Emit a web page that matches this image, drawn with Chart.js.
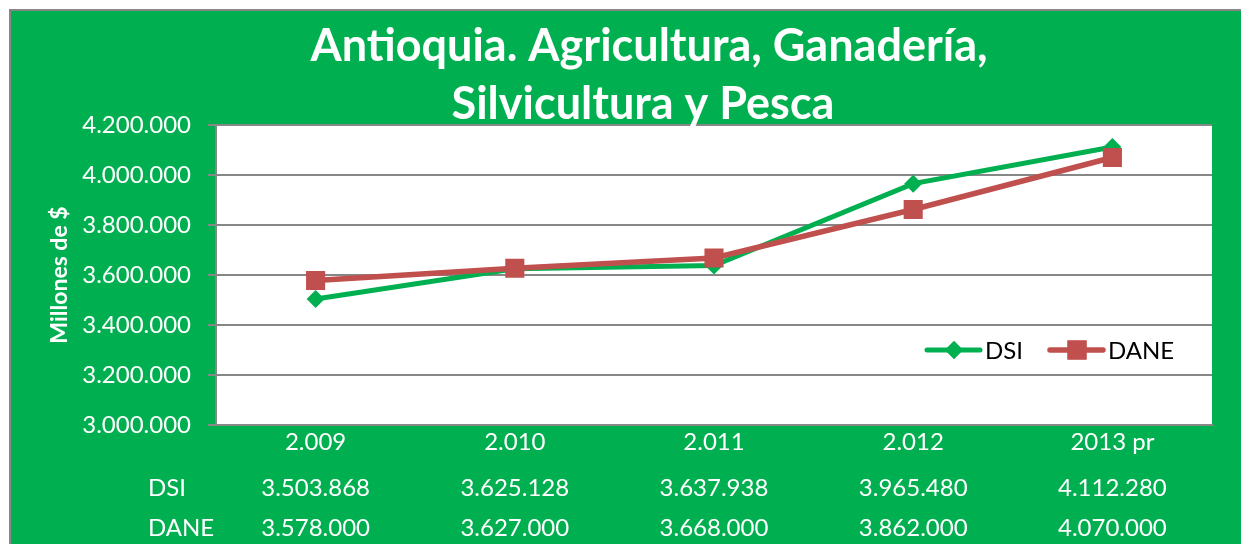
<!DOCTYPE html>
<html>
<head>
<meta charset="utf-8">
<script src="https://cdn.jsdelivr.net/npm/chart.js@4/dist/chart.umd.min.js"></script>
<style>
  body { margin: 0; background: #fff; }
  canvas { display: block; }
</style>
</head>
<body>
<canvas id="myChart" width="1241" height="544"></canvas>
<script>
// datos
var years = ["2.009", "2.010", "2.011", "2.012", "2013 pr"];
var dsi = [3503868, 3625128, 3637938, 3965480, 4112280];
var dane = [3578000, 3627000, 3668000, 3862000, 4070000];
var yTicks = [3000000, 3200000, 3400000, 3600000, 3800000, 4000000, 4200000];

var GREEN = "#00B050";
var RED = "#C0504D";
var GRID = "#878787";
var FONT = "Lato, 'Open Sans', sans-serif";

function miles(n) {
  return String(n).replace(/\B(?=(\d{3})+(?!\d))/g, ".");
}

var decoPlugin = {
  id: "deco",
  beforeDraw: function(chart) {
    var ctx = chart.ctx, a = chart.chartArea;
    ctx.save();
    ctx.fillStyle = "#fff";
    ctx.fillRect(0, 0, chart.width, chart.height);
    ctx.fillStyle = GREEN;
    ctx.fillRect(10, 10, chart.width - 10, chart.height - 10);
    ctx.strokeStyle = GRID;
    ctx.lineWidth = 2;
    ctx.beginPath();
    ctx.moveTo(10, chart.height);
    ctx.lineTo(10, 10);
    ctx.lineTo(chart.width, 10);
    ctx.stroke();
    ctx.fillStyle = "#fff";
    ctx.fillRect(a.left, a.top, a.right - a.left, a.bottom - a.top);
    ctx.restore();
  },
  afterDraw: function(chart) {
    var ctx = chart.ctx, xs = chart.scales.x;
    ctx.save();
    // titulo
    ctx.fillStyle = "#fff";
    ctx.textAlign = "center";
    ctx.textBaseline = "middle";
    ctx.font = "bold 45px " + FONT;
    ctx.fillText("Antioquia. Agricultura, Ganadería,", 649, 46);
    ctx.fillText("Silvicultura y Pesca", 643, 104);

    // tabla de datos
    ctx.font = "24px " + FONT;
    ctx.textAlign = "left";
    ctx.fillText("DSI", 148, 488);
    ctx.fillText("DANE", 148, 528);
    ctx.textAlign = "center";
    for (var i = 0; i < years.length; i++) {
      var x = xs.getPixelForValue(i);
      ctx.fillText(miles(dsi[i]), x, 488);
      ctx.fillText(miles(dane[i]), x, 528);
    }

    // leyenda
    var items = [
      { ds: chart.data.datasets[0], x: 925 },
      { ds: chart.data.datasets[1], x: 1048 }
    ];
    var ly = 350;
    items.forEach(function(it) {
      var d = it.ds;
      ctx.strokeStyle = d.borderColor;
      ctx.lineWidth = d.borderWidth;
      ctx.lineCap = "round";
      ctx.beginPath();
      ctx.moveTo(it.x + 2, ly);
      ctx.lineTo(it.x + 55, ly);
      ctx.stroke();
      ctx.fillStyle = d.pointBackgroundColor;
      Chart.helpers.drawPoint(ctx, {
        pointStyle: d.pointStyle, radius: d.pointRadius, borderWidth: 0
      }, it.x + 29, ly);
      ctx.fill();
      ctx.fillStyle = "#000";
      ctx.textAlign = "left";
      ctx.font = "24px " + FONT;
      ctx.fillText(d.label, it.x + 60, ly + 1);
    });
    ctx.restore();
  }
};

var ctx = document.getElementById("myChart").getContext("2d");
var myChart = new Chart(ctx, {
  type: "line",
  data: {
    labels: years,
    datasets: [
      {
        label: "DSI",
        data: dsi,
        borderColor: GREEN,
        backgroundColor: GREEN,
        pointBackgroundColor: GREEN,
        pointBorderColor: GREEN,
        borderWidth: 5,
        pointStyle: "rectRot",
        pointRadius: 9,
        pointBorderWidth: 0,
        tension: 0,
        order: 1
      },
      {
        label: "DANE",
        data: dane,
        borderColor: RED,
        backgroundColor: RED,
        pointBackgroundColor: RED,
        pointBorderColor: RED,
        borderWidth: 5.5,
        pointStyle: "rect",
        pointRadius: 13.5,
        pointBorderWidth: 0,
        tension: 0,
        order: 0
      }
    ]
  },
  options: {
    responsive: false,
    animation: false,
    devicePixelRatio: 1,
    layout: { padding: { top: 125, right: 29, bottom: 0, left: 0 } },
    plugins: {
      legend: { display: false },
      tooltip: { enabled: false },
      title: { display: false }
    },
    scales: {
      x: {
        offset: true,
        afterFit: function(s) { s.height = 119; },
        grid: { display: false, drawTicks: false },
        border: { display: true, color: GRID, width: 2 },
        ticks: {
          color: "#fff",
          font: { family: FONT, size: 24 },
          padding: 3,
          maxRotation: 0,
          autoSkip: false
        }
      },
      y: {
        min: 3000000,
        max: 4200000,
        afterFit: function(s) { s.width = 216; },
        afterBuildTicks: function(s) {
          s.ticks = yTicks.map(function(v) { return { value: v }; });
        },
        grid: { color: GRID, lineWidth: 2, tickLength: 8 },
        border: { display: true, color: GRID, width: 2 },
        ticks: {
          color: "#fff",
          font: { family: FONT, size: 24 },
          padding: 17,
          callback: function(v) { return miles(v); }
        },
        title: {
          display: true,
          text: "Millones de $",
          color: "#fff",
          font: { family: FONT, size: 23, weight: "bold" },
          padding: { top: 46, bottom: 0 }
        }
      }
    }
  },
  plugins: [decoPlugin]
});
</script>
</body>
</html>
